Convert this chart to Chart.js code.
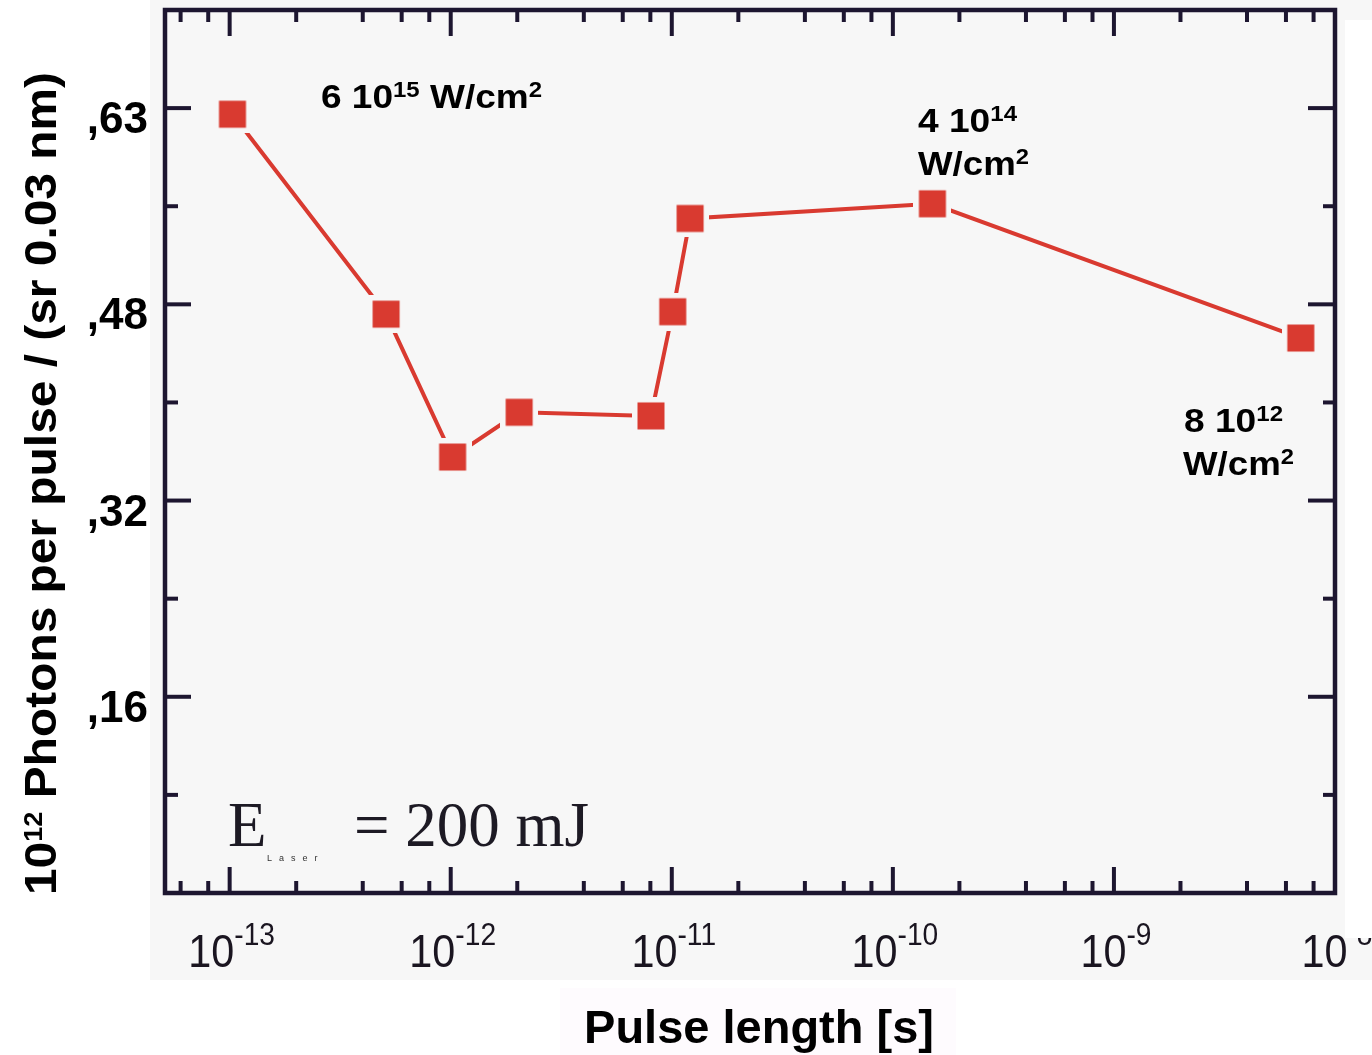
<!DOCTYPE html>
<html>
<head>
<meta charset="utf-8">
<script src="https://cdn.jsdelivr.net/npm/chart.js@4.4.0/dist/chart.umd.min.js"></script>
<style>
  html, body { margin: 0; padding: 0; background: #fff; }
</style>
</head>
<body>
<canvas id="chart" width="1372" height="1055"></canvas>
<script>
// Data
const pulseLengths = [1.03e-13, 5.1e-13, 1.02e-12, 2.04e-12, 8.05e-12, 1.01e-11, 1.21e-11, 1.51e-10, 7.0e-9];
const photons = [0.635, 0.472, 0.3555, 0.392, 0.389, 0.474, 0.550, 0.562, 0.4525];

// Axis ticks
const yTickValues = [0.16, 0.32, 0.48, 0.64];
const yTickLabels = [",16", ",32", ",48", ",63"];
const yMinorValues = [0.08, 0.24, 0.40, 0.56];
const xDecades = [-13, -12, -11, -10, -9, -8];
const xMinorFactors = [2, 4, 6, 8];

// Colours
const plotBg = "#f7f7f7";
const axisColor = "#1d1630";
const red = "#d93a30";

// Square marker with a small background-coloured margin (line stops short of it)
function makeMarker() {
  const m = document.createElement("canvas");
  m.width = 38;
  m.height = 38;
  const g = m.getContext("2d");
  g.fillStyle = plotBg;
  g.fillRect(0, 0, 38, 38);
  g.fillStyle = red;
  g.fillRect(5.5, 5.5, 27, 27);
  return m;
}

// Draw a run of text pieces (for superscripts); optional width to fit
function drawRuns(ctx, segs, x, y, align, fitWidth, scaleX) {
  let w = 0;
  segs.forEach((s) => {
    ctx.font = s.font;
    w += ctx.measureText(s.text).width;
  });
  let k = scaleX || 1;
  if (fitWidth) k = fitWidth / w;
  const total = w * k;
  let start = x;
  if (align === "center") start = x - total / 2;
  else if (align === "right") start = x - total;
  ctx.save();
  ctx.translate(start, y);
  ctx.scale(k, 1);
  ctx.textAlign = "left";
  ctx.textBaseline = "alphabetic";
  let cx = 0;
  segs.forEach((s) => {
    ctx.font = s.font;
    ctx.fillText(s.text, cx, s.dy || 0);
    cx += ctx.measureText(s.text).width;
  });
  ctx.restore();
}

function line(ctx, x1, y1, x2, y2) {
  ctx.beginPath();
  ctx.moveTo(x1, y1);
  ctx.lineTo(x2, y2);
  ctx.stroke();
}

const B = (px) => "bold " + px + "px 'Liberation Sans', Arial, sans-serif";
const R = (px) => px + "px 'Liberation Sans', Arial, sans-serif";
const S = (px) => px + "px 'Liberation Serif', 'Times New Roman', serif";

const decorations = {
  id: "decorations",
  beforeDraw(chart) {
    const ctx = chart.ctx;
    ctx.save();
    ctx.fillStyle = "#ffffff";
    ctx.fillRect(0, 0, chart.width, chart.height);
    ctx.fillStyle = plotBg;
    ctx.fillRect(150, 0, 1222, 980);
    ctx.fillStyle = "#fefbfe";
    ctx.fillRect(560, 988, 396, 67);
    ctx.restore();
  },
  afterDraw(chart) {
    const ctx = chart.ctx;
    const { left, right, top, bottom } = chart.chartArea;
    const xs = chart.scales.x;
    const ys = chart.scales.y;
    ctx.save();

    // Frame
    ctx.strokeStyle = axisColor;
    ctx.lineWidth = 4.5;
    ctx.strokeRect(left, top, right - left, bottom - top);

    // X ticks, inward on bottom and top
    ctx.lineWidth = 4;
    const xtick = (v, len) => {
      const px = xs.getPixelForValue(v);
      if (px < left + 3 || px > right - 3) return;
      line(ctx, px, bottom, px, bottom - len);
      line(ctx, px, top, px, top + len);
    };
    xDecades.forEach((d) => xtick(Math.pow(10, d), 26));
    xDecades.forEach((d) =>
      xMinorFactors.forEach((f) => xtick(f * Math.pow(10, d - 1), 12))
    );

    // Y ticks, inward on left and right
    yTickValues.forEach((v) => {
      const py = ys.getPixelForValue(v);
      line(ctx, left, py, left + 26, py);
      line(ctx, right, py, right - 27, py);
    });
    yMinorValues.forEach((v) => {
      const py = ys.getPixelForValue(v);
      line(ctx, left, py, left + 13, py);
      line(ctx, right, py, right - 12, py);
    });

    // X tick labels 10^n
    ctx.fillStyle = "#1a1520";
    xDecades.forEach((d) => {
      const px = xs.getPixelForValue(Math.pow(10, d));
      drawRuns(
        ctx,
        [
          { text: "10", font: R(47) },
          { text: String(d), font: R(32), dy: -22 },
        ],
        px + 2,
        967,
        "center",
        null,
        0.88
      );
    });
    // white strip on the right edge hides part of the last label
    ctx.fillStyle = "#ffffff";
    ctx.fillRect(1345, 20, 27, 918);

    // Y tick labels
    ctx.fillStyle = "#000";
    yTickValues.forEach((v, i) => {
      const py = ys.getPixelForValue(v);
      drawRuns(ctx, [{ text: yTickLabels[i], font: B(44) }], 148, py + 25, "right");
    });

    // Axis titles
    drawRuns(ctx, [{ text: "Pulse length [s]", font: B(47) }], 759, 1043, "center");
    ctx.save();
    ctx.translate(56, 895);
    ctx.rotate(-Math.PI / 2);
    drawRuns(
      ctx,
      [
        { text: "10", font: B(44) },
        { text: "12", font: B(25), dy: -14 },
        { text: " Photons per pulse / (sr 0.03 nm)", font: B(44) },
      ],
      0,
      0,
      "left",
      823
    );
    ctx.restore();

    // Intensity annotations
    const sup = (t) => ({ text: t, font: B(22), dy: -11 });
    drawRuns(
      ctx,
      [
        { text: "6 10", font: B(34) },
        sup("15"),
        { text: " W/cm", font: B(34) },
        sup("2"),
      ],
      321,
      108,
      "left",
      221
    );
    drawRuns(ctx, [{ text: "4 10", font: B(34) }, sup("14")], 918, 132, "left", 99);
    drawRuns(ctx, [{ text: "W/cm", font: B(34) }, sup("2")], 918, 175, "left", 111);
    drawRuns(ctx, [{ text: "8 10", font: B(34) }, sup("12")], 1184, 432, "left", 99);
    drawRuns(ctx, [{ text: "W/cm", font: B(34) }, sup("2")], 1183, 475, "left", 111);

    // E_Laser = 200 mJ
    ctx.fillStyle = "#1d1a24";
    ctx.font = S(63);
    ctx.textAlign = "left";
    ctx.textBaseline = "alphabetic";
    ctx.fillText("E", 228, 846);
    ctx.fillText("= 200 mJ", 354, 846);
    ctx.font = R(9);
    ctx.letterSpacing = "7px";
    ctx.fillStyle = "#333";
    ctx.fillText("Laser", 267, 861);
    ctx.letterSpacing = "0px";

    ctx.restore();
  },
};

const points = pulseLengths.map((x, i) => ({ x: x, y: photons[i] }));

new Chart(document.getElementById("chart"), {
  type: "line",
  data: {
    datasets: [
      {
        data: points,
        borderColor: red,
        borderWidth: 4,
        tension: 0,
        fill: false,
        pointStyle: makeMarker(),
        pointRadius: 14,
        pointHoverRadius: 14,
      },
    ],
  },
  options: {
    responsive: false,
    animation: false,
    devicePixelRatio: 1,
    layout: {
      autoPadding: false,
      padding: { left: 165, right: 37, top: 10, bottom: 162 },
    },
    scales: {
      x: { type: "logarithmic", min: 5.1e-14, max: 1e-8, display: false },
      y: { type: "linear", min: 0, max: 0.72, display: false },
    },
    plugins: {
      legend: { display: false },
      tooltip: { enabled: false },
    },
  },
  plugins: [decorations],
});
</script>
</body>
</html>
